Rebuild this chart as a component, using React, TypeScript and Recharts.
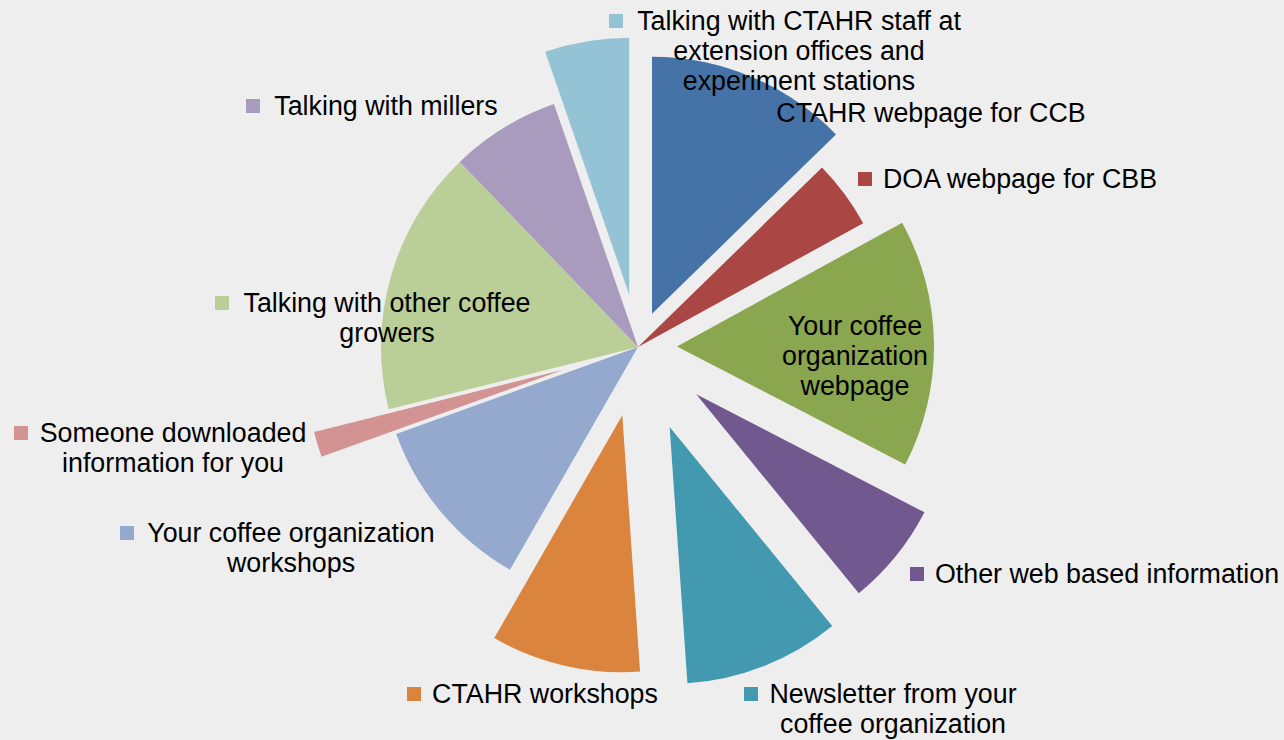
import { Cell, Pie, PieChart } from "recharts";

// share of respondents per information source
const categories = [
  "CTAHR webpage for CCB",
  "DOA webpage for CBB",
  "Your coffee organization webpage",
  "Other web based information",
  "Newsletter from your coffee organization",
  "CTAHR workshops",
  "Your coffee organization workshops",
  "Someone downloaded information for you",
  "Talking with other coffee growers",
  "Talking with millers",
  "Talking with CTAHR staff at extension offices and experiment stations",
];
const values = [12.7, 4.3, 15.6, 6.5, 9.8, 9.4, 11.2, 1.6, 16.7, 6.9, 5.3];

// wrapped label text, as in the original data labels
const labelLines = [
  ["CTAHR webpage for CCB"],
  ["DOA webpage for CBB"],
  ["Your coffee", "organization", "webpage"],
  ["Other web based information"],
  ["Newsletter from your", "coffee organization"],
  ["CTAHR workshops"],
  ["Your coffee organization", "workshops"],
  ["Someone downloaded", "information for you"],
  ["Talking with other coffee", "growers"],
  ["Talking with millers"],
  ["Talking with CTAHR staff at", "extension offices and", "experiment stations"],
];

// styling
const colors = [
  "#4673A7", "#AA4744", "#8AA64F", "#71588F", "#4299B0", "#DB843D",
  "#95A9CF", "#D29392", "#BACE97", "#A99BBE", "#93C3D5",
];
const explode = [36, 0, 39, 75, 86, 70, 0, 78, 0, 0, 53]; // px pulled out from centre

// hand placed labels (centre of text lines, first baseline, legend key x)
const labelSpots = [
  { cx: 931, y: 122, keyX: 751 },
  { cx: 1020, y: 188, keyX: 858 },
  { cx: 855, y: 335, keyX: 762 },
  { cx: 1107, y: 583, keyX: 910 },
  { cx: 893, y: 703, keyX: 744 },
  { cx: 545, y: 703, keyX: 407 },
  { cx: 291, y: 542, keyX: 120 },
  { cx: 173, y: 442, keyX: 14 },
  { cx: 387, y: 312, keyX: 215 },
  { cx: 386, y: 115, keyX: 246 },
  { cx: 799, y: 30, keyX: 609 },
];

const W = 1284;
const H = 740;
const CX = 638;
const CY = 347;
const R = 257;
const FONT = "'Liberation Sans', Arial, sans-serif";

const data = categories.map((name, i) => ({ name, value: values[i] }));
const total = values.reduce((a, b) => a + b, 0);
// clockwise angle from 12 o'clock to the middle of each slice
const midAngles = values.map(
  (v, i) => ((values.slice(0, i).reduce((a, b) => a + b, 0) + v / 2) / total) * 360
);

const renderLabel = (props: any) => {
  const i = props.index ?? categories.indexOf(props.name);
  const spot = labelSpots[i];
  if (!spot) return null;
  return (
    <g key={`label-${i}`}>
      <rect x={spot.keyX} y={spot.y - 16} width={14} height={14} fill={colors[i]} />
      <text
        x={spot.cx}
        y={spot.y}
        textAnchor="middle"
        fontSize={26.8}
        fontFamily={FONT}
        fill="#000"
      >
        {labelLines[i].map((line, j) => (
          <tspan key={j} x={spot.cx} dy={j === 0 ? 0 : 30}>
            {line}
          </tspan>
        ))}
      </text>
    </g>
  );
};

export default function App() {
  return (
    <div
      style={{
        position: "fixed",
        left: 0,
        top: 0,
        width: W,
        height: H,
        background: "#EEEEEE",
        fontFamily: FONT,
      }}
    >
      <PieChart width={W} height={H} margin={{ top: 0, right: 0, bottom: 0, left: 0 }}>
        {/* one pie per slice so each can be pulled out along its own mid angle */}
        {data.map((_, k) => {
          const a = (midAngles[k] * Math.PI) / 180;
          const last = k === data.length - 1;
          return (
            <Pie
              key={k}
              data={data}
              dataKey="value"
              nameKey="name"
              cx={CX + explode[k] * Math.sin(a)}
              cy={CY - explode[k] * Math.cos(a)}
              outerRadius={R}
              startAngle={90}
              endAngle={-270}
              stroke="none"
              labelLine={false}
              label={last ? renderLabel : false}
              isAnimationActive={false}
            >
              {data.map((__, i) => (
                <Cell key={i} fill={i === k ? colors[i] : "none"} stroke="none" />
              ))}
            </Pie>
          );
        })}
      </PieChart>
    </div>
  );
}
